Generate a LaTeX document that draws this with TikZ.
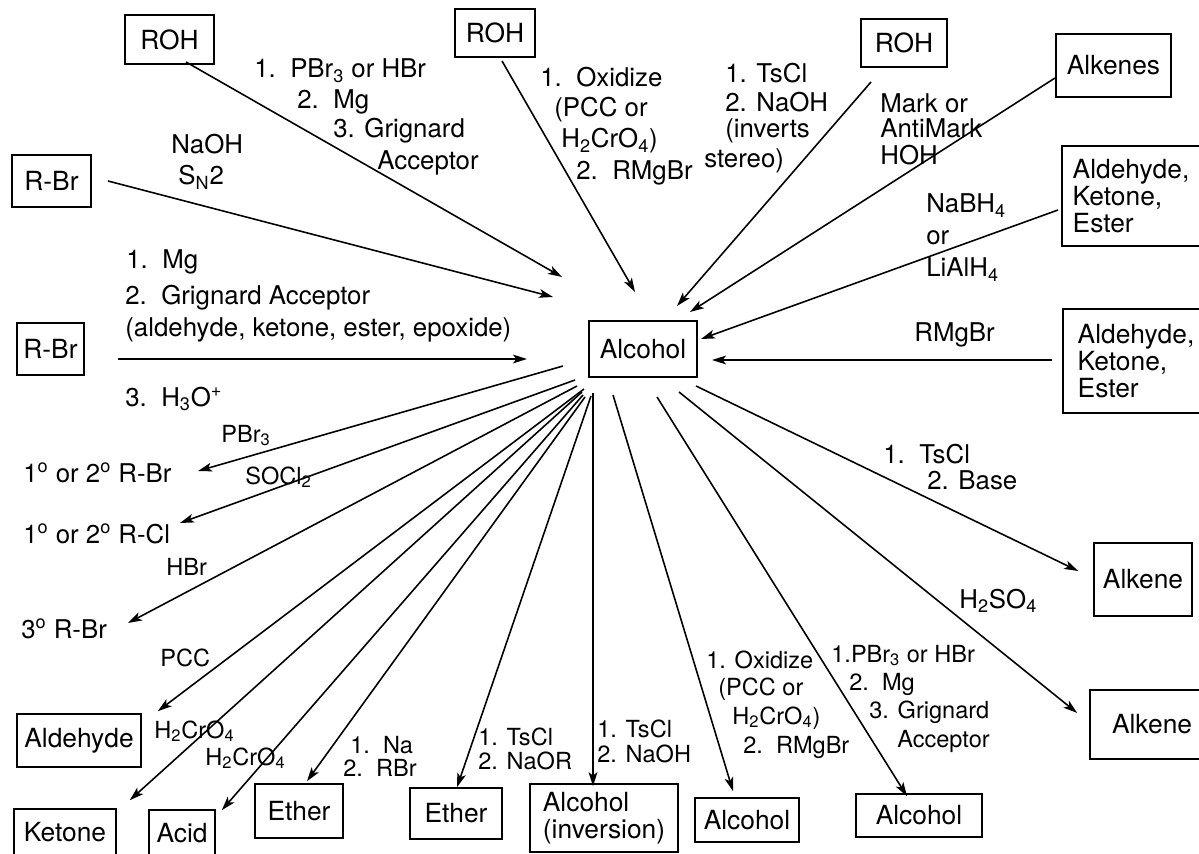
\documentclass[tikz,border=0pt]{standalone}
\usepackage{fontspec}
\setmainfont{TeX Gyre Heros}
\usetikzlibrary{arrows.meta,calc}
\begin{document}
\begin{tikzpicture}[x=0.02cm,y=-0.02cm,
  box/.style={draw, line width=0.9pt, inner sep=0pt, font=\fontsize{15}{15.5}\selectfont},
  sz/.style 2 args={minimum width=#1*0.02cm, minimum height=#2*0.02cm},
  lb/.style={inner sep=0pt, anchor=base west, font=\fontsize{14.7}{14.7}\selectfont},
  sl/.style={inner sep=0pt, anchor=base west, font=\fontsize{13.4}{13.4}\selectfont},
  arr/.style={line width=0.9pt, -{Stealth[length=8pt,width=5pt,inset=2pt]}}]
\useasboundingbox (0,0) rectangle (1199,854);
\clip (0,0) rectangle (1199,854);

% boxes
\node[box,sz={89}{49}] (roh1) at (169.5,39.5) {ROH};
\node[box,sz={79}{52}] (rbr1) at (51.5,181) {R-Br};
\node[box,sz={67}{52}] (rbr2) at (50.5,349) {R-Br};
\node[box,sz={80}{48}] (roh2) at (495,33) {ROH};
\node[box,sz={86}{48}] (roh3) at (904,43) {ROH};
\node[box,sz={115}{63}] (alkenes) at (1113.5,65.5) {Alkenes};
\node[box,sz={138}{100},align=left] (ake1) at (1131,196) {Aldehyde,\\Ketone,\\Ester};
\node[box,sz={146}{104},align=left] (ake2) at (1136,361) {Aldehyde,\\Ketone,\\Ester};
\node[box,sz={108}{56}] (alc) at (643,349) {Alcohol};
\node[box,sz={98}{73}] (alkene1) at (1143,579.5) {Alkene};
\node[box,sz={124}{69}] (alkene2) at (1152,724.5) {Alkene};
\node[box,sz={126}{43}] (alc4) at (919,815.5) {Alcohol};
\node[box,sz={104}{44}] (alc3) at (747,820) {Alcohol};
\node[box,sz={148}{68},align=left] (alcinv) at (604,818) {Alcohol\\(inversion)};
\node[box,sz={92}{51}] (ether2) at (456,813.5) {Ether};
\node[box,sz={88}{54}] (ether1) at (299,811) {Ether};
\node[box,sz={66}{46}] (acid) at (182,833) {Acid};
\node[box,sz={102}{46}] (ketone) at (65,832) {Ketone};
\node[box,sz={124}{53}] (ald) at (79,740.5) {Aldehyde};

% unboxed products
\node[lb] (rbrA) at (23,482) {1\textsuperscript{o} or 2\textsuperscript{o} R-Br};
\node[lb] (rcl) at (23,543) {1\textsuperscript{o} or 2\textsuperscript{o} R-Cl};
\node[lb] (rbr3) at (21,638) {3\textsuperscript{o} R-Br};

% labels top-left
\node[lb] (t1) at (254,78) {1.~~PBr\textsubscript{3} or HBr};
\node[lb] (t2) at (297,109) {2.~~Mg};
\node[lb] (t3) at (333,138) {3. Grignard};
\node[lb] (t4) at (377,170) {Acceptor};
\node[lb] (n1) at (171,154) {NaOH};
\node[lb] (n2) at (178,185) {S\textsubscript{N}2};
\node[lb] (g1) at (126,269) {1.~~Mg};
\node[lb] (g2) at (125,305) {2.~~Grignard Acceptor};
\node[lb] (g3) at (125,337) {(aldehyde, ketone, ester, epoxide)};
\node[lb] (g4) at (125,406) {3.~~H\textsubscript{3}O\textsuperscript{+}};
% top middle
\node[lb] (o1) at (540,87) {1.~~Oxidize};
\node[lb] (o2) at (554,117) {(PCC or};
\node[lb] (o3) at (561,148) {H\textsubscript{2}CrO\textsubscript{4})};
\node[lb] (o4) at (576,180) {2.~~RMgBr};
\node[lb] (s1) at (725,83) {1. TsCl};
\node[lb] (s2) at (725,112) {2. NaOH};
\node[lb] (s3) at (725,138) {(inverts};
\node[lb] (s4) at (704,168) {stereo)};
% right
\node[lb] (m1) at (880,113) {Mark or};
\node[lb] (m2) at (880,138) {AntiMark};
\node[lb] (m3) at (880,165) {HOH};
\node[lb] (b1) at (926,213) {NaBH\textsubscript{4}};
\node[lb] (b2) at (926,245) {or};
\node[lb] (b3) at (926,277) {LiAlH\textsubscript{4}};
\node[lb] (r1) at (914,342) {RMgBr};
\node[lb] (e1) at (883,463) {1.~~TsCl};
\node[lb] (e2) at (927,489) {2. Base};
\node[lb] (h1) at (959,608) {H\textsubscript{2}SO\textsubscript{4}};
% bottom right
\node[sl] (p1) at (831,662) {1.PBr\textsubscript{3} or HBr};
\node[sl] (p2) at (849,690) {2.~~Mg};
\node[sl] (p3) at (869,718) {3. Grignard};
\node[sl] (p4) at (897,747) {Acceptor};
\node[sl] (q1) at (706,668) {1. Oxidize};
\node[sl] (q2) at (718,695) {(PCC or};
\node[sl] (q3) at (732,724) {H\textsubscript{2}CrO\textsubscript{4})};
\node[sl] (q4) at (743,753) {2.~~RMgBr};
\node[sl] (w1) at (597,737) {1. TsCl};
\node[sl] (w2) at (597,762) {2. NaOH};
\node[sl] (v1) at (478,745) {1. TsCl};
\node[sl] (v2) at (478,769) {2. NaOR};
\node[sl] (u1) at (350,753) {1.~~Na};
\node[sl] (u2) at (343,776) {2.~~RBr};
\node[sl] (c1) at (154,738) {H\textsubscript{2}CrO\textsubscript{4}};
\node[sl] (c2) at (205,765) {H\textsubscript{2}CrO\textsubscript{4}};
\node[sl] (pcc) at (160,666) {PCC};
\node[sl] (hbr) at (166,575) {HBr};
\node[sl] (socl) at (245,484) {SOCl\textsubscript{2}};
\node[sl] (pbr) at (221,442) {PBr\textsubscript{3}};

% incoming arrows
\draw[arr] ($(roh1)+(16.5,22.5)$) -- ($(alc)+(-81,-72)$);
\draw[arr] ($(rbr1)+(56.5,0)$) -- ($(alc)+(-90,-52)$);
\draw[arr] ($(roh2)+(7,28)$) -- ($(alc)+(-8,-57)$);
\draw[arr] ($(roh3)+(-33,39)$) -- ($(alc)+(34,-43)$);
\draw[arr] ($(alkenes)+(-58.5,12.5)$) -- ($(alc)+(47,-37)$);
\draw[arr] ($(ake1)+(-73,14)$) -- ($(alc)+(58,-10)$);
\draw[arr] ($(ake2)+(-84,-1)$) -- ($(alc)+(69,11)$);
\draw[arr] ($(rbr2)+(67.5,10)$) -- ($(alc)+(-116,10)$);

% outgoing arrows
\draw[arr] ($(alc)+(-80,17)$) -- ($(rbrA.base west)+(175,-11)$);
\draw[arr] ($(alc)+(-68,31)$) -- ($(rcl.base west)+(157,-20)$);
\draw[arr] ($(alc)+(-66,37)$) -- ($(rbr3.base west)+(107,-15)$);
\draw[arr] ($(alc)+(-59,40)$) -- ($(ald.north east)+(16,-2)$);
\draw[arr] ($(alc)+(-61,43)$) -- ($(ketone.north east)+(13,-8)$);
\draw[arr] ($(alc)+(-60,46)$) -- ($(acid.north east)+(6,1)$);
\draw[arr] ($(alc)+(-58,48)$) -- ($(ether1.north)+(8,-2)$);
\draw[arr] ($(alc)+(-52,47)$) -- ($(ether2.north)+(1,0)$);
\draw[arr] ($(alc)+(-50,44)$) -- ($(alcinv.north)+(-11,3)$);
\draw[arr] ($(alc)+(-30,46)$) -- ($(alc3.north)+(-14,-6)$);
\draw[arr] ($(alc)+(14,48)$) -- ($(alc4.north)+(-12,3)$);
\draw[arr] ($(alc)+(36,43)$) -- ($(alkene2.west)+(-12,-11.5)$);
\draw[arr] ($(alc)+(53,37)$) -- ($(alkene1.west)+(-15,-8.5)$);
\end{tikzpicture}
\end{document}
